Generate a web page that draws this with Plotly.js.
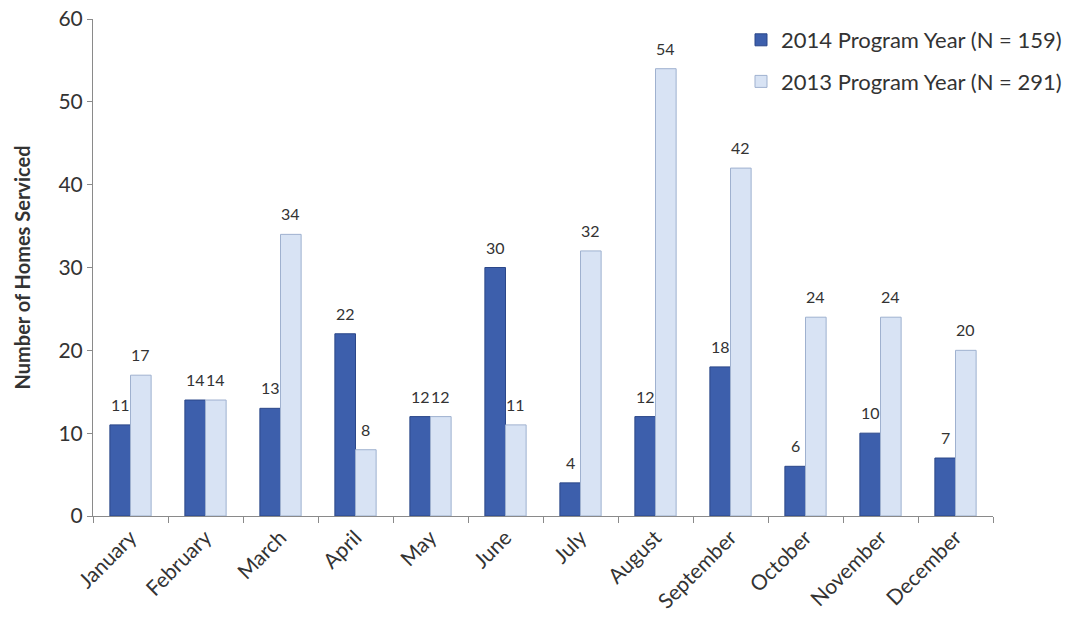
<!DOCTYPE html>
<html>
<head>
<meta charset="utf-8">
<script src="https://cdn.plot.ly/plotly-3.0.1.min.js"></script>
<style>
  html, body { margin: 0; padding: 0; background: #ffffff; }
  #chart { width: 1083px; height: 626px; }
</style>
</head>
<body>
<div id="chart"></div>
<script>
// Monthly homes serviced, two program years
const months = ["January", "February", "March", "April", "May", "June",
                "July", "August", "September", "October", "November", "December"];
const homes2014 = [11, 14, 13, 22, 12, 30, 4, 12, 18, 6, 10, 7];
const homes2013 = [17, 14, 34, 8, 12, 11, 32, 54, 42, 24, 24, 20];
const name2014 = "2014 Program Year (N = 159)";
const name2013 = "2013 Program Year (N = 291)";
const yTicks = [0, 10, 20, 30, 40, 50, 60];

const fontFamily = "Lato, 'Open Sans', sans-serif";
const textColor = "#333333";

const traces = [
  {
    type: "bar",
    name: name2014,
    legendgroup: "py2014",
    x: months,
    y: homes2014,
    marker: { color: "#3d5fac", line: { color: "#2b4789", width: 1 } }
  },
  {
    type: "bar",
    name: name2013,
    legendgroup: "py2013",
    x: months,
    y: homes2013,
    marker: { color: "#d8e3f4", line: { color: "#9fb1cf", width: 1 } }
  }
];

// Value labels sit a little above each bar, offset left/right to their bar in the group
function valueLabels(values, shift) {
  return values.map((v, i) => ({
    x: months[i], y: v, xref: "x", yref: "y",
    text: String(v), showarrow: false,
    xanchor: "center", yanchor: "bottom",
    xshift: shift, yshift: 9,
    font: { family: fontFamily, size: 16, color: textColor }
  }));
}

const layout = {
  width: 1083,
  height: 626,
  paper_bgcolor: "#ffffff",
  plot_bgcolor: "#ffffff",
  margin: { l: 93, r: 90, t: 19, b: 110 },
  barmode: "group",
  bargap: 0.45,
  bargroupgap: 0,
  font: { family: fontFamily, color: textColor },
  showlegend: true,
  legend: {
    x: 0.72, y: 1.0, xanchor: "left", yanchor: "top",
    font: { size: 22, color: textColor },
    traceorder: "grouped",
    tracegroupgap: 10,
    itemwidth: 30,
    bgcolor: "rgba(0,0,0,0)"
  },
  annotations: valueLabels(homes2014, -10).concat(valueLabels(homes2013, 10)),
  xaxis: {
    type: "category",
    tickson: "boundaries",
    ticks: "outside",
    ticklen: 6,
    tickcolor: "#8a8a8a",
    tickangle: -45,
    tickfont: { size: 21, color: textColor },
    showline: true,
    linecolor: "#8a8a8a",
    linewidth: 1,
    showgrid: false,
    zeroline: false
  },
  yaxis: {
    range: [0, 60],
    tickvals: yTicks,
    ticktext: yTicks.map(String),
    ticks: "outside",
    ticklen: 5,
    tickcolor: "#8a8a8a",
    tickfont: { size: 21, color: textColor },
    showline: true,
    linecolor: "#8a8a8a",
    linewidth: 1,
    showgrid: false,
    zeroline: false,
    title: { text: "<b>Number of Homes Serviced</b>", font: { size: 20, color: textColor }, standoff: 22 }
  }
};

Plotly.newPlot("chart", traces, layout, { staticPlot: true, displayModeBar: false });
</script>
</body>
</html>
